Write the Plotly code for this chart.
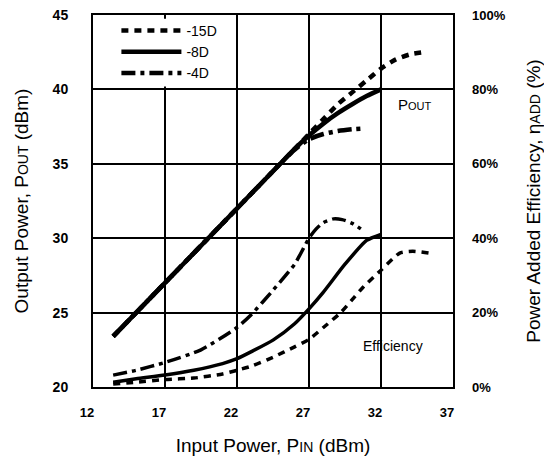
import plotly.graph_objects as go

# ---- data ----
pin_15 = [13.4, 15, 17, 19, 21, 23, 25, 27, 28, 29, 30, 31, 32, 33, 34, 35]
pout_15 = [23.4, 25.0, 27.0, 29.0, 31.0, 33.0, 35.0, 37.0, 38.0, 39.0, 39.8, 40.6, 41.4, 42.0, 42.35, 42.5]

pin_8 = [13.4, 15, 17, 19, 21, 23, 25, 26, 27, 28, 29, 30, 31, 32]
pout_8 = [23.4, 25.0, 27.0, 29.0, 31.0, 33.0, 35.0, 36.0, 36.9, 37.7, 38.4, 39.0, 39.55, 40.0]

pin_4 = [13.4, 15, 17, 19, 21, 23, 25, 26, 27, 28, 29, 30, 30.6]
pout_4 = [23.4, 25.0, 27.0, 29.0, 31.0, 33.0, 35.0, 35.95, 36.65, 37.0, 37.2, 37.32, 37.36]

eff_x_15 = [13.4, 15, 17, 19, 21, 22, 23, 24.5, 26, 27, 28, 29.2, 30, 30.8, 32, 33.3, 34.2, 35.3]
eff_15 = [0.8, 1.3, 2.0, 2.4, 3.5, 4.5, 5.6, 8.0, 10.8, 12.8, 16.0, 20.0, 23.5, 27.0, 31.4, 36.0, 36.5, 36.0]

eff_x_8 = [13.4, 15, 17, 19, 21, 22, 23, 24.5, 26, 27, 28, 29.5, 31, 32]
eff_8 = [1.3, 2.2, 3.2, 4.5, 6.3, 7.6, 9.5, 12.6, 17.0, 21.0, 25.5, 33.0, 39.4, 41.0]

eff_x_4 = [13.4, 15, 17, 19.5, 22, 23, 24.5, 26, 27, 27.5, 28, 28.7, 29.3, 30, 30.6]
eff_4 = [3.2, 4.5, 6.6, 10.0, 16.0, 19.5, 26.0, 33.0, 40.0, 42.5, 44.2, 45.2, 45.0, 44.0, 42.5]

series_names = ["-15D", "-8D", "-4D"]
x_ticks = [12, 17, 22, 27, 32, 37]
y_left_ticks = [20, 25, 30, 35, 40, 45]
y_right_ticks = [0, 20, 40, 60, 80, 100]

dashes = ["7px,6px", "solid", "14px,5px,4px,5px"]
FONT = "Liberation Sans, Arial, sans-serif"

fig = go.Figure()
pout_sets = [(pin_15, pout_15), (pin_8, pout_8), (pin_4, pout_4)]
eff_sets = [(eff_x_15, eff_15), (eff_x_8, eff_8), (eff_x_4, eff_4)]
for name, (xs, ys), dash in zip(series_names, pout_sets, dashes):
    fig.add_trace(go.Scatter(x=xs, y=ys, mode="lines", name=name, legendgroup=name,
                             line=dict(color="black", width=4.5, dash=dash, shape="spline", smoothing=0.6)))
for name, (xs, ys), dash in zip(series_names, eff_sets, dashes):
    fig.add_trace(go.Scatter(x=xs, y=ys, mode="lines", name=name, legendgroup=name, showlegend=False,
                             yaxis="y2",
                             line=dict(color="black", width=3.5, dash=dash, shape="spline", smoothing=0.6)))

# white box behind the legend (covers the grid)
fig.add_shape(type="rect", xref="x", yref="y", x0=12.3, x1=21.6, y0=40.2, y1=44.75,
              fillcolor="white", line=dict(width=0), layer="between")

fig.add_annotation(x=34.35, y=39.0, xref="x", yref="y", showarrow=False,
                   text="P<span style='font-size:11px'>OUT</span>",
                   font=dict(family=FONT, size=15, color="black"))
fig.add_annotation(x=32.8, y=22.75, xref="x", yref="y", showarrow=False,
                   text="Efficiency", font=dict(family=FONT, size=14, color="black"))

axis_common = dict(showline=True, linecolor="black", linewidth=2, mirror=True, automargin=False,
                   showgrid=True, gridcolor="black", gridwidth=2, zeroline=False, ticks="",
                   ticklabeloverflow="allow")

# the page body adds an 8px offset at top/left, so the figure is 8px smaller
fig.update_layout(
    width=544, height=451,
    margin=dict(l=85, r=99, t=7, b=72),
    paper_bgcolor="white", plot_bgcolor="white",
    font=dict(family=FONT, color="black"),
    showlegend=True,
    legend=dict(x=0.065, y=1.0, xanchor="left", yanchor="top", bgcolor="rgba(0,0,0,0)",
                itemwidth=60, tracegroupgap=0,
                font=dict(family=FONT, size=14, color="black")),
    xaxis=dict(range=[12, 37], tickvals=x_ticks, ticktext=[str(v) for v in x_ticks],
               tickfont=dict(family=FONT, size=13, weight="bold"), ticklabelstandoff=12,
               ticklabelshift=-6,
               title=dict(text="Input Power, P<span style='font-size:14px'>IN</span> (dBm)",
                          font=dict(family=FONT, size=19), standoff=20),
               **axis_common),
    yaxis=dict(range=[20, 45], tickvals=y_left_ticks, ticktext=[str(v) for v in y_left_ticks],
               tickfont=dict(family=FONT, size=14, weight="bold"), ticklabelstandoff=20,
               title=dict(text="Output Power, P<span style='font-size:14px'>OUT</span> (dBm)",
                          font=dict(family=FONT, size=19), standoff=19),
               **axis_common),
    yaxis2=dict(range=[0, 100], tickvals=y_right_ticks, ticktext=[f"{v}%" for v in y_right_ticks],
                overlaying="y", side="right", showgrid=False, showline=False, zeroline=False, ticks="",
                automargin=False, ticklabeloverflow="allow",
                tickfont=dict(family=FONT, size=13, weight="bold"), ticklabelstandoff=18,
                title=dict(text="Power Added Efficiency, η<span style='font-size:14px'>ADD</span> (%)",
                           font=dict(family=FONT, size=19), standoff=22)),
)

fig.write_html("out.html")
